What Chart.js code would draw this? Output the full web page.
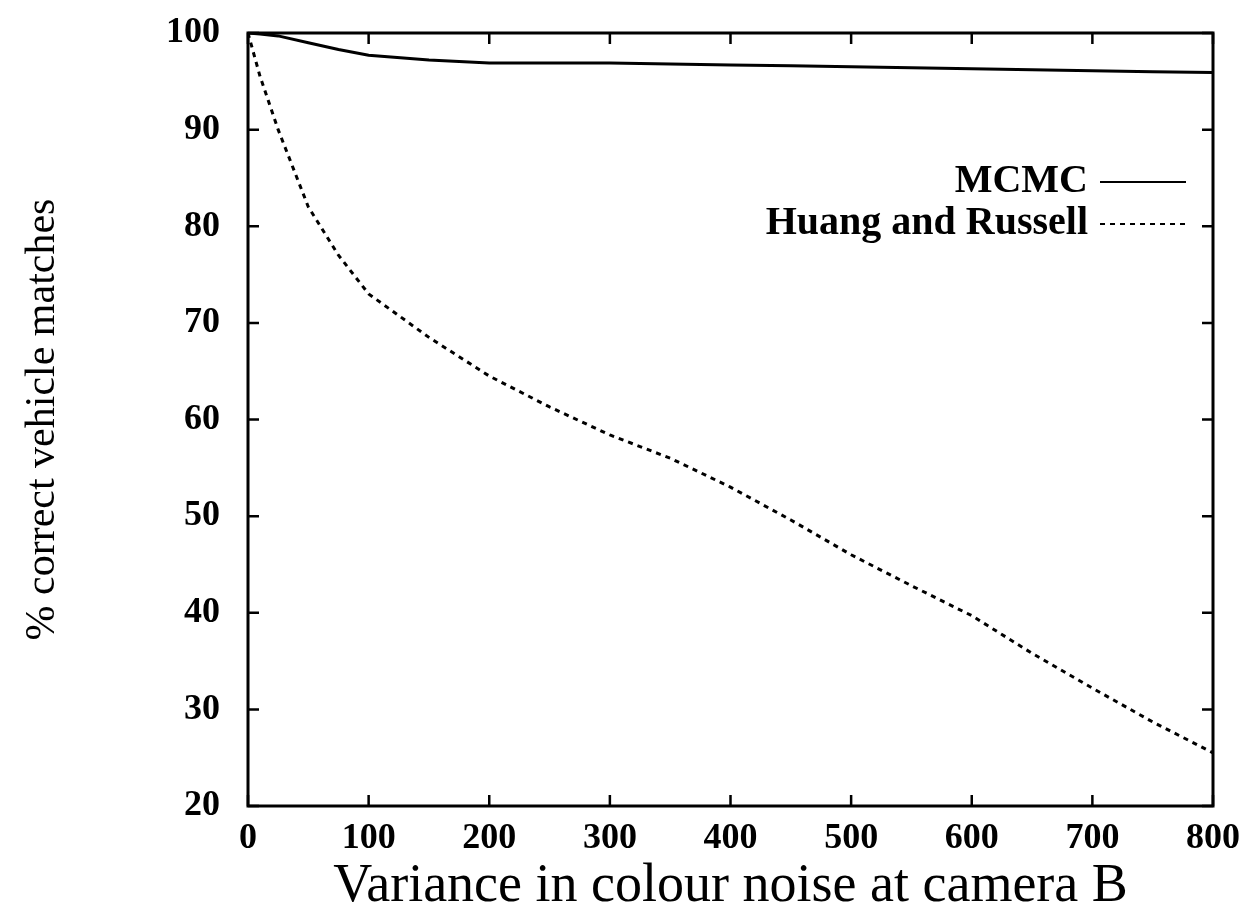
<!DOCTYPE html>
<html>
<head>
<meta charset="utf-8">
<script src="https://cdn.jsdelivr.net/npm/chart.js@4.4.0/dist/chart.umd.min.js"></script>
<style>
  html, body { margin: 0; padding: 0; background: #fff; }
  #wrap { width: 1251px; height: 915px; }
</style>
</head>
<body>
<div id="wrap"><canvas id="noiseChart" width="1251" height="915"></canvas></div>
<script>
// values
const variance = [0, 10, 25, 50, 75, 100, 150, 200, 250, 300, 350, 400, 450, 500, 550, 600, 650, 700, 750, 800];
const mcmc     = [100, 99.9, 99.7, 99.0, 98.3, 97.7, 97.2, 96.9, 96.9, 96.9, 96.8, 96.7, 96.6, 96.5, 96.4, 96.3, 96.2, 96.1, 96.0, 95.9];
const huang    = [100, 95.5, 90, 82, 77, 73, 68.5, 64.5, 61.3, 58.4, 56, 53, 49.6, 46, 42.8, 39.7, 35.8, 32.2, 28.7, 25.5];
const seriesNames = ['MCMC', 'Huang and Russell'];
const xTicks = [0, 100, 200, 300, 400, 500, 600, 700, 800];
const yTicks = [20, 30, 40, 50, 60, 70, 80, 90, 100];

const SERIF = '"Liberation Serif", "Times New Roman", serif';

function points(ys) {
    return variance.map((x, i) => ({ x: x, y: ys[i] }));
}

// box with inward ticks on all four sides, plus the gnuplot-style legend
const framePlugin = {
    id: 'frame',
    afterDraw(chart) {
        const ctx = chart.ctx;
        const a = chart.chartArea;
        const xs = chart.scales.x, ys = chart.scales.y;
        const tick = 11;
        ctx.save();
        ctx.strokeStyle = '#000';
        ctx.lineWidth = 3;
        ctx.strokeRect(a.left, a.top, a.right - a.left, a.bottom - a.top);
        ctx.lineWidth = 2.5;
        ctx.beginPath();
        xTicks.forEach(v => {
            const px = xs.getPixelForValue(v);
            ctx.moveTo(px, a.bottom); ctx.lineTo(px, a.bottom - tick);
            ctx.moveTo(px, a.top); ctx.lineTo(px, a.top + tick);
        });
        yTicks.forEach(v => {
            const py = ys.getPixelForValue(v);
            ctx.moveTo(a.left, py); ctx.lineTo(a.left + tick, py);
            ctx.moveTo(a.right, py); ctx.lineTo(a.right - tick, py);
        });
        ctx.stroke();

        // legend
        ctx.font = 'bold 40px ' + SERIF;
        ctx.textAlign = 'right';
        ctx.textBaseline = 'middle';
        ctx.fillStyle = '#000';
        chart.data.datasets.forEach((ds, i) => {
            const y = 182 + i * 42;
            ctx.fillText(seriesNames[i], 1088, y);
            ctx.beginPath();
            ctx.lineWidth = 2;
            ctx.setLineDash(ds.borderDash || []);
            ctx.moveTo(1100, y);
            ctx.lineTo(1186, y);
            ctx.stroke();
        });
        ctx.setLineDash([]);
        ctx.restore();
    }
};

window.onload = function() {
    const ctx = document.getElementById('noiseChart').getContext('2d');
    new Chart(ctx, {
        type: 'line',
        data: {
            datasets: [{
                label: seriesNames[0],
                data: points(mcmc),
                borderColor: '#000',
                borderWidth: 3,
                pointRadius: 0,
                tension: 0
            }, {
                label: seriesNames[1],
                data: points(huang),
                borderColor: '#000',
                borderWidth: 3,
                borderDash: [5, 5],
                pointRadius: 0,
                tension: 0
            }]
        },
        options: {
            responsive: false,
            animation: false,
            layout: { padding: { top: 33, right: 38, left: 0, bottom: 0 } },
            plugins: { legend: { display: false }, tooltip: { enabled: false } },
            scales: {
                x: {
                    type: 'linear',
                    min: 0,
                    max: 800,
                    afterBuildTicks: s => { s.ticks = xTicks.map(v => ({ value: v })); },
                    afterFit: s => { s.height = 109; s.paddingLeft = 0; s.paddingRight = 0; },
                    grid: { display: false, drawTicks: false },
                    border: { display: false },
                    ticks: {
                        color: '#000',
                        padding: 11,
                        maxRotation: 0,
                        font: { family: SERIF, size: 36, weight: 'bold' }
                    },
                    title: {
                        display: true,
                        text: 'Variance in colour noise at camera B',
                        color: '#000',
                        padding: { bottom: 0 },
                        font: { family: SERIF, size: 54, lineHeight: 1.05 }
                    }
                },
                y: {
                    min: 20,
                    max: 100,
                    afterBuildTicks: s => { s.ticks = yTicks.map(v => ({ value: v })); },
                    afterFit: s => { s.width = 248; s.paddingTop = 0; s.paddingBottom = 0; },
                    grid: { display: false, drawTicks: false },
                    border: { display: false },
                    ticks: {
                        color: '#000',
                        padding: 28,
                        font: { family: SERIF, size: 36, weight: 'bold' }
                    },
                    title: {
                        display: true,
                        text: '% correct vehicle matches',
                        color: '#000',
                        padding: { top: 20 },
                        font: { family: SERIF, size: 42, lineHeight: 1.1 }
                    }
                }
            }
        },
        plugins: [framePlugin]
    });
};
</script>
</body>
</html>
